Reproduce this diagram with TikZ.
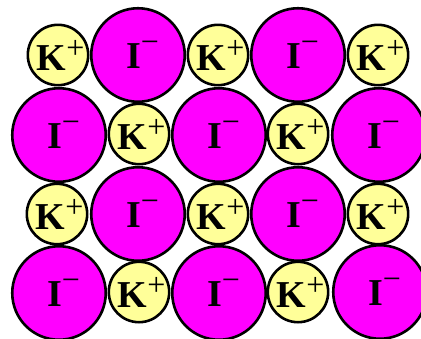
\documentclass[tikz,border=0pt]{standalone}
\usepackage{fontspec}
\setmainfont{Liberation Serif}
\usepackage{tikz}

\definecolor{kyellow}{HTML}{FFFF99}
\definecolor{imagenta}{HTML}{FF00FF}
\newcommand{\kplus}{\hspace*{5pt}\textbf{K}\raisebox{12pt}{\fontsize{32}{32}\selectfont+}}
\newcommand{\iminus}{\hspace*{9pt}\textbf{I}\raisebox{16pt}{\fontsize{32}{32}\selectfont−}}

\tikzset{
  kion/.style={circle,draw,line width=2.6pt,fill=kyellow,minimum size=58.5pt,inner sep=0pt,
    font=\fontsize{38}{38}\selectfont},
  iion/.style={circle,draw,line width=2.6pt,fill=imagenta,minimum size=93.5pt,inner sep=0pt,
    font=\fontsize{38}{38}\selectfont}
}

\begin{document}
\begin{tikzpicture}[x=1pt,y=-1pt]
			\useasboundingbox (0,0) rectangle (421,338);
			\clip (0,0) rectangle (421,338);
			
			% row 1
			\node[kion] (k11) at (58,55) {\kplus};
			\node[iion] (i12) at (138,55) {\iminus};
			\node[kion] (k13) at (218,55) {\kplus};
			\node[iion] (i14) at (298,55) {\iminus};
			\node[kion] (k15) at (378,55) {\kplus};
			
			% row 2
			\node[iion] (i21) at (59,135) {\iminus};
			\node[kion] (k22) at (139,134) {\kplus};
			\node[iion] (i23) at (219,135) {\iminus};
			\node[kion] (k24) at (298,134) {\kplus};
			\node[iion] (i25) at (379,135) {\iminus};
			
			% row 3
			\node[kion] (k31) at (57,214) {\kplus};
			\node[iion] (i32) at (138,214) {\iminus};
			\node[kion] (k33) at (218,214) {\kplus};
			\node[iion] (i34) at (298,214) {\iminus};
			\node[kion] (k35) at (378,214) {\kplus};
			
			% row 4
			\node[iion] (i41) at (59,293) {\iminus};
			\node[kion] (k42) at (139,292) {\kplus};
			\node[iion] (i43) at (219,293) {\iminus};
			\node[kion] (k44) at (298,292) {\kplus};
			\node[iion] (i45) at (380,292) {\iminus};
		\end{tikzpicture}
\end{document}
